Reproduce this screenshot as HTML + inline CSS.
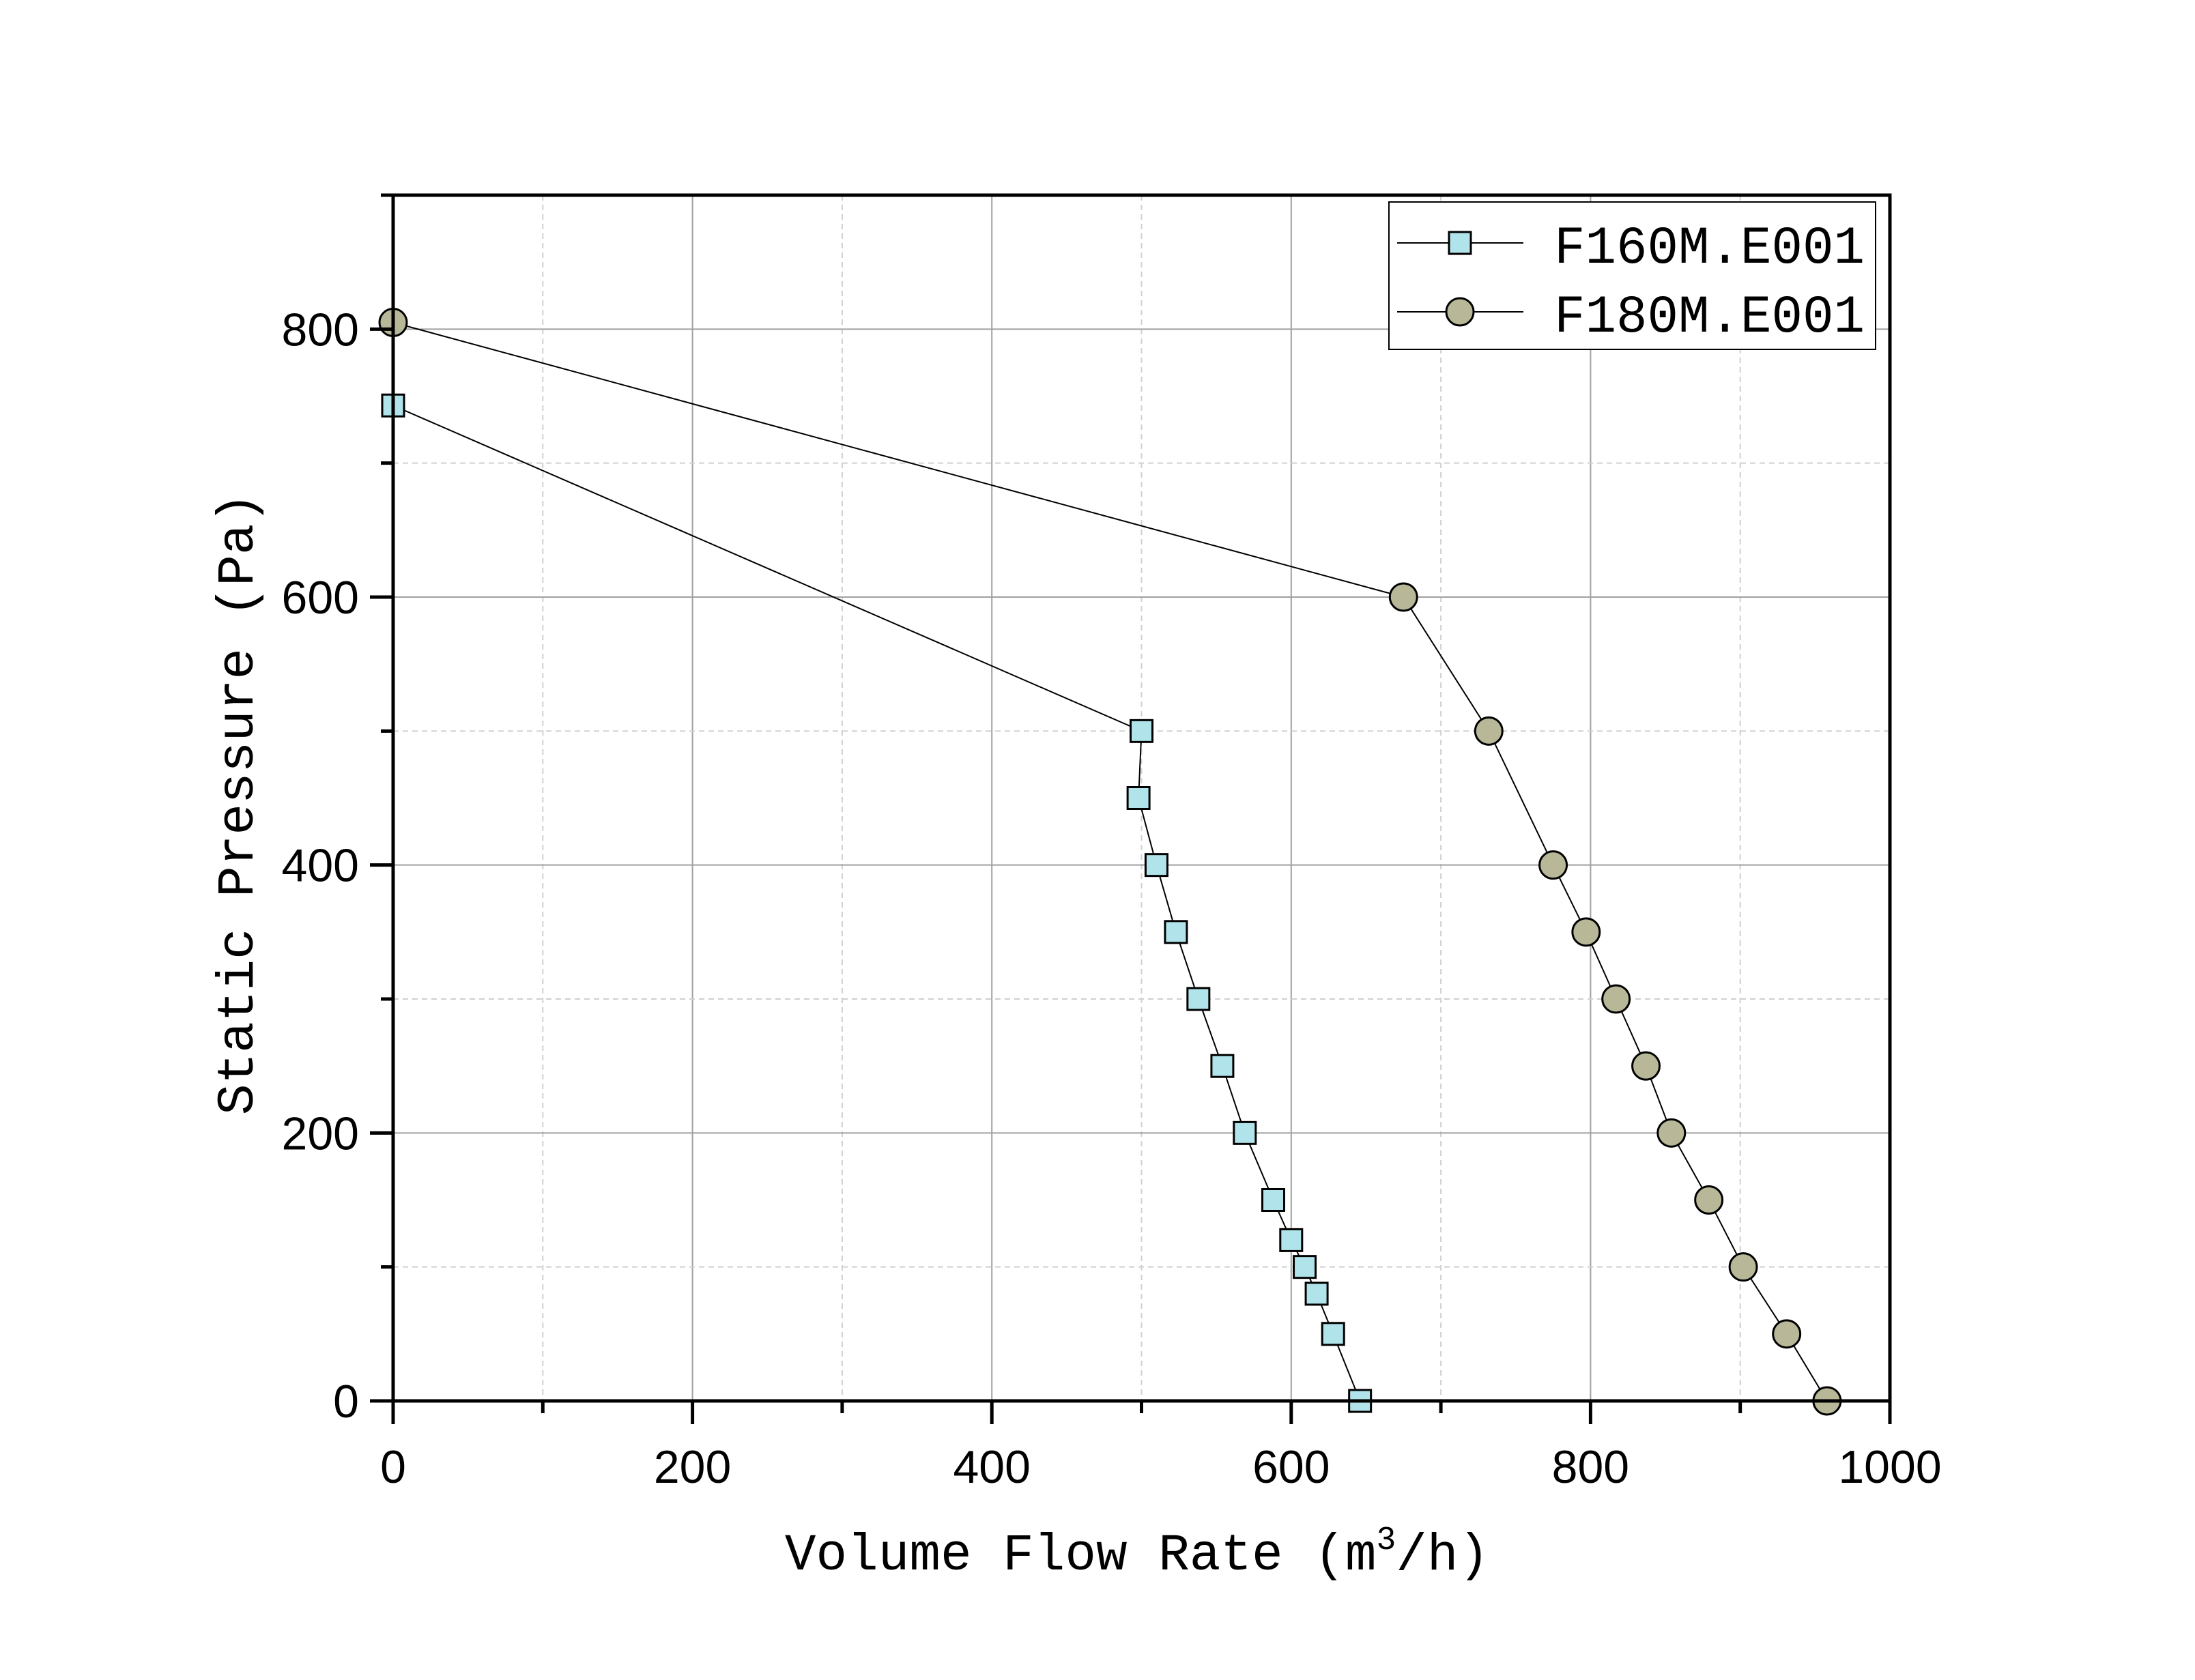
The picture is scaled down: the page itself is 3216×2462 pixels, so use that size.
<!DOCTYPE html>
<html><head><meta charset="utf-8"><style>
html,body{margin:0;padding:0;background:#fff;}
svg{display:block;}
text{font-family:"Liberation Sans",sans-serif;fill:#000;}
.mono{font-family:"Liberation Mono","WenQuanYi Zen Hei",monospace;}
</style></head><body>
<svg id="chart" width="3216" height="2462" viewBox="0 0 3216 2462" xmlns="http://www.w3.org/2000/svg">
<rect width="3216" height="2462" fill="#fff"/>
<g id="grid"></g>
<g id="series"></g>
<g id="axes"></g>
<text class="mono" x="1666" y="2300" font-size="76" text-anchor="middle">Volume Flow Rate (m<tspan font-size="48" dy="-30">3</tspan><tspan dy="30">/h)</tspan></text>
<text class="mono" x="0" y="0" font-size="76" text-anchor="middle" transform="translate(370,1178) rotate(-90)">Static Pressure (Pa)</text>
<g>
<rect x="2035" y="296" width="713" height="216" fill="#fff" stroke="#000" stroke-width="2"/>
<line x1="2047" y1="356" x2="2232" y2="356" stroke="#000" stroke-width="2"/>
<rect x="2123" y="340" width="32" height="32" fill="#b0e4ea" stroke="#000" stroke-width="3"/>
<text class="mono" x="2277" y="385" font-size="78" textLength="455" lengthAdjust="spacingAndGlyphs">F160M.E001</text>
<line x1="2047" y1="457" x2="2232" y2="457" stroke="#000" stroke-width="2"/>
<circle cx="2139" cy="457" r="20" fill="#b8b898" stroke="#000" stroke-width="3"/>
<text class="mono" x="2277" y="486" font-size="78" textLength="455" lengthAdjust="spacingAndGlyphs">F180M.E001</text>
</g>
</svg>
<script>
const xTicks=[0,200,400,600,800,1000];
const yTicks=[0,200,400,600,800];
const f160X=[0,500,498,510,523,538,554,569,588,600,609,617,628,646];
const f160Y=[743,500,450,400,350,300,250,200,150,120,100,80,50,0];
const f180X=[0,675,732,775,797,817,837,854,879,902,931,958];
const f180Y=[805,600,500,400,350,300,250,200,150,100,50,0];
const L=576,R=2769,T=286,B=2053;
const sx=v=>L+(v/1000)*(R-L);
const sy=v=>B-(v/900)*(B-T);
const NS="http://www.w3.org/2000/svg";
function mk(tag,attrs,parent){const e=document.createElementNS(NS,tag);for(const k in attrs)e.setAttribute(k,attrs[k]);parent.appendChild(e);return e;}
const grid=document.getElementById('grid'),axes=document.getElementById('axes'),ser=document.getElementById('series');
for(let v=100;v<1000;v+=100){const major=v%200===0;
 const g=mk('line',{x1:sx(v),x2:sx(v),y1:T,y2:B,stroke:major?'#a0a0a0':'#d0d0d0','stroke-width':2,'stroke-dasharray':major?'none':'8,6'},grid);
 
 }
for(let v=100;v<900;v+=100){const major=v%200===0;
 const g=mk('line',{x1:L,x2:R,y1:sy(v),y2:sy(v),stroke:major?'#a0a0a0':'#d0d0d0','stroke-width':2,'stroke-dasharray':major?'none':'8,6'},grid);
 
 }
function drawSeries(xs,ys,type,name){
 const pts=xs.map((x,i)=>sx(x)+','+sy(ys[i])).join(' ');
 const pl=mk('polyline',{points:pts,fill:'none',stroke:'#000','stroke-width':2},ser);
 
 
 xs.forEach((x,i)=>{let m;
  if(type==='sq')m=mk('rect',{x:sx(x)-16,y:sy(ys[i])-16,width:32,height:32,fill:'#b0e4ea',stroke:'#000','stroke-width':3},ser);
  else m=mk('circle',{cx:sx(x),cy:sy(ys[i]),r:20,fill:'#b8b898',stroke:'#000','stroke-width':3},ser);
  
  });
}
drawSeries(f160X,f160Y,'sq','f160');
drawSeries(f180X,f180Y,'ci','f180');
const frame=mk('rect',{x:L,y:T,width:R-L,height:B-T,fill:'none',stroke:'#000','stroke-width':5},axes);


for(let v=0;v<=1000;v+=100){const major=v%200===0;
 mk('line',{x1:sx(v),x2:sx(v),y1:B,y2:B+(major?34:18),stroke:'#000','stroke-width':5},axes);}
for(let v=0;v<=900;v+=100){const major=v%200===0;
 mk('line',{x1:L,x2:L-(major?34:18),y1:sy(v),y2:sy(v),stroke:'#000','stroke-width':5},axes);}
xTicks.forEach(v=>{const t=mk('text',{x:sx(v),y:B+120,'font-size':68,'text-anchor':'middle'},axes);t.textContent=v;
 
 });
yTicks.forEach(v=>{const t=mk('text',{x:L-50,y:sy(v)+24,'font-size':68,'text-anchor':'end'},axes);t.textContent=v;
 
 });
</script>
</body></html>
